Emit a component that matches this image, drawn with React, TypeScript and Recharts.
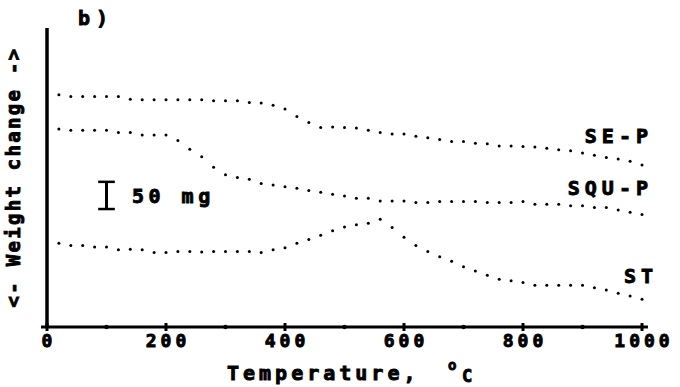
import { LineChart, Line, XAxis, YAxis, ReferenceLine } from "recharts";

// temperature of each recorded point, degC
const temperatures = [
  20, 40, 60, 80, 100, 120, 140, 160, 180, 200,
  220, 240, 260, 280, 300, 320, 340, 360, 380, 400,
  420, 440, 460, 480, 500, 520, 540, 560, 580, 600,
  620, 640, 660, 680, 700, 720, 740, 760, 780, 800,
  820, 840, 860, 880, 900, 920, 940, 960, 980, 1000,
];

// relative weight, mg (curves are offset vertically)
const seP = [
  427, 424, 424, 424, 424, 424, 419, 418, 418, 418,
  418, 418, 418, 416, 416, 416, 413, 412, 408, 401,
  387, 376, 367, 368, 367, 366, 362, 358, 355, 355,
  351, 348, 345, 341, 341, 338, 337, 333, 333, 332,
  331, 329, 326, 324, 320, 316, 312, 309, 305, 298,
];
const squP = [
  364, 362, 362, 362, 362, 358, 358, 353, 353, 353,
  343, 327, 313, 294, 280, 275, 272, 264, 261, 258,
  255, 251, 248, 244, 241, 237, 237, 232, 232, 232,
  229, 229, 231, 231, 231, 231, 229, 229, 229, 231,
  226, 226, 226, 223, 223, 220, 220, 215, 211, 207,
];
const st = [
  154, 150, 150, 147, 147, 142, 143, 142, 137, 137,
  139, 139, 138, 139, 139, 139, 139, 137, 142, 146,
  154, 161, 169, 177, 184, 188, 191, 198, 183, 165,
  150, 139, 129, 121, 111, 103, 95, 88, 85, 82,
  77, 77, 77, 77, 77, 72, 68, 62, 57, 51,
];

const xTicks = [0, 100, 200, 300, 400, 500, 600, 700, 800, 900, 1000];

// the "I 50 mg" scale bar
const barX = 100;
const barLow = 217;
const barHigh = barLow + 50;

const data = temperatures.map((t, i) => ({ t, seP: seP[i], squP: squP[i], st: st[i] }));

const FONT = '"DejaVu Sans Mono", "Liberation Mono", monospace';
// heavy printer-like lettering
const txt = {
  fontFamily: FONT,
  fontWeight: "bold" as const,
  fill: "#000",
  stroke: "#000",
  strokeWidth: 0.9,
};

function TempTick(props: any) {
  const { x, y, payload } = props;
  const v = payload.value;
  if (v % 200 !== 0) return <circle cx={x} cy={y} r={2.2} fill="#000" />;
  return (
    <g>
      <line x1={x} x2={x} y1={y - 4} y2={y + 4} stroke="#000" strokeWidth={3} />
      <text {...txt} x={x} y={y + 20} dx={2} textAnchor="middle" fontSize={18} letterSpacing={4}>
        {v}
      </text>
    </g>
  );
}

const dotStyle = { r: 1.5, fill: "#000", stroke: "none" };

export default function App() {
  return (
    <div style={{ position: "relative", width: 680, height: 387, background: "#fff" }}>
      <style>{"body{margin:0}"}</style>
      <LineChart width={680} height={387} data={data} margin={{ top: 28, right: 38, bottom: 30, left: 47 }}>
        <XAxis
          type="number"
          dataKey="t"
          domain={[0, 1000]}
          ticks={xTicks}
          interval={0}
          axisLine={false}
          tickLine={false}
          tickSize={0}
          tickMargin={0}
          tick={<TempTick />}
          height={30}
        />
        <YAxis type="number" domain={[0, 550]} hide />
        {/* axes drawn as segments so they can be heavy and overhang */}
        <ReferenceLine
          segment={[{ x: 0, y: 0 }, { x: 0, y: 550 }]}
          stroke="#000"
          strokeWidth={3.5}
          ifOverflow="visible"
        />
        <ReferenceLine
          segment={[{ x: -10, y: 0 }, { x: 1010, y: 0 }]}
          stroke="#000"
          strokeWidth={3}
          ifOverflow="visible"
        />
        <ReferenceLine
          segment={[{ x: barX, y: barLow }, { x: barX, y: barHigh }]}
          stroke="#000"
          strokeWidth={3}
        />
        <ReferenceLine
          segment={[{ x: barX - 14, y: barLow }, { x: barX + 14, y: barLow }]}
          stroke="#000"
          strokeWidth={2.5}
        />
        <ReferenceLine
          segment={[{ x: barX - 14, y: barHigh }, { x: barX + 14, y: barHigh }]}
          stroke="#000"
          strokeWidth={2.5}
        />
        <Line dataKey="seP" stroke="none" dot={dotStyle} activeDot={false} isAnimationActive={false} />
        <Line dataKey="squP" stroke="none" dot={dotStyle} activeDot={false} isAnimationActive={false} />
        <Line dataKey="st" stroke="none" dot={dotStyle} activeDot={false} isAnimationActive={false} />
      </LineChart>
      <svg
        width={680}
        height={387}
        style={{ position: "absolute", left: 0, top: 0, pointerEvents: "none" }}
      >
        <text {...txt} fontSize={20} letterSpacing={6} x={78} y={25}>
          b)
        </text>
        <text
          {...txt}
          fontSize={19}
          letterSpacing={2.3}
          textAnchor="middle"
          dominantBaseline="central"
          transform="translate(13,177) rotate(-90)"
        >
          {"<- Weight change ->"}
        </text>
        <text {...txt} fontSize={20} letterSpacing={4} x={227} y={380}>
          Temperature,
        </text>
        <text {...txt} fontSize={14} x={448} y={370}>
          o
        </text>
        <text {...txt} fontSize={17} x={462} y={382}>
          C
        </text>
        <text {...txt} fontSize={20} letterSpacing={5} textAnchor="end" x={653} y={143}>
          SE-P
        </text>
        <text {...txt} fontSize={20} letterSpacing={5} textAnchor="end" x={653} y={195}>
          SQU-P
        </text>
        <text {...txt} fontSize={20} letterSpacing={5} textAnchor="end" x={658} y={283}>
          ST
        </text>
        <text {...txt} fontSize={20} letterSpacing={4.5} x={132} y={203}>
          50 mg
        </text>
      </svg>
    </div>
  );
}
